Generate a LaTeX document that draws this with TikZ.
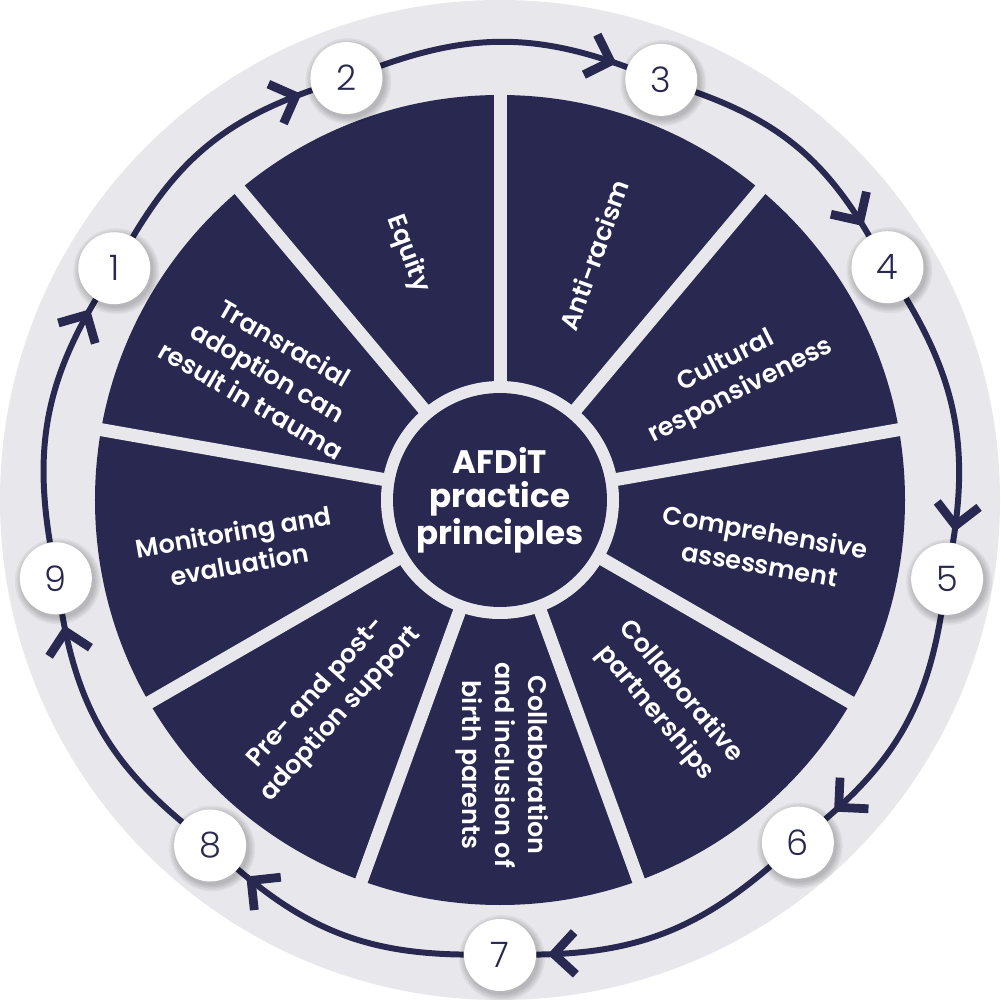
\documentclass[tikz,border=0pt]{standalone}
\usepackage{fontspec}
\setmainfont{Poppins}[BoldFont={* SemiBold}]
\newfontfamily\hubfont{Poppins}[UprightFont={* Bold}]
\newfontfamily\numfont{Poppins}[UprightFont={* Light}]
\usetikzlibrary{decorations.markings}
\definecolor{navy}{HTML}{282850}
\definecolor{ringgrey}{HTML}{E8E8EC}
\pgfdeclarelayer{back}
\pgfdeclarelayer{mid}
\pgfsetlayers{back,mid,main}
\tikzset{
  hub/.style={circle, fill=navy, minimum size=4.28cm, inner sep=0pt, text=white, align=center,
    font=\hubfont\fontsize{18.5}{19.5}\selectfont},
  seglabel/.style={text=white, align=center, inner sep=0pt,
    font=\bfseries\fontsize{14.5}{18.8}\selectfont},
  numcirc/.style={circle, fill=white, minimum size=1.44cm, inner sep=0pt, text=navy,
    font=\numfont\fontsize{20}{20}\selectfont},
  softshadow/.style={black, opacity=0.045},
  divider/.style={ringgrey, line width=7.4pt},
  flow/.style={navy, line width=3.4pt, bend left=20, postaction={decorate},
    decoration={markings, mark=at position -10pt with {
      \draw[navy, line width=5pt, line cap=butt, line join=miter] (-12pt,12pt) -- (0pt,0pt) -- (-12pt,-12pt);}}},
}
\begin{document}
\begin{tikzpicture}[x=0.02cm, y=0.02cm]
\useasboundingbox (-500,-500) rectangle (500,500);
\begin{pgfonlayer}{back}
  \fill[white] (-500,-500) rectangle (500,500);
  \fill[ringgrey] (0,0) circle (500);
  \fill[navy] (0,0) circle (405);
  \foreach \a in {10,50,...,330} \draw[divider] (\a:100) -- (\a:412);
  \fill[ringgrey] (0,0) circle (119);
\end{pgfonlayer}

\node[hub] (hub) at (0,0) {AFDiT\\practice\\principles};

\node[seglabel, rotate=-70] (equity) at (110.5:263) {Equity};
\node[seglabel, rotate=70] (antiracism) at (69:262) {Anti-racism};
\node[seglabel, rotate=27] (cultural) at (27.8:264) {Cultural\\responsiveness};
\node[seglabel, rotate=-10] (comp) at (-10.3:267) {Comprehensive\\assessment};
\node[seglabel, rotate=-50] (collabp) at (-50.3:263) {Collaborative\\partnerships};
\node[seglabel, rotate=-90] (birth) at (-89.5:265) {Collaboration\\and inclusion of\\birth parents};
\node[seglabel, rotate=48] (prepost) at (-130:266) {Pre- and post-\\adoption support};
\node[seglabel, rotate=10] (monitor) at (190.3:268) {Monitoring and\\evaluation};
\node[seglabel, rotate=-30] (trans) at (151:265) {Transracial\\adoption can\\result in trauma};

\node[numcirc] (n1) at (149:450) {1};
\node[numcirc] (n2) at (110:449) {2};
\node[numcirc] (n3) at (69:450) {3};
\node[numcirc] (n4) at (31:452) {4};
\node[numcirc] (n5) at (-10:454) {5};
\node[numcirc] (n6) at (-49:454) {6};
\node[numcirc] (n7) at (-90:455) {7};
\node[numcirc] (n8) at (-130:451) {8};
\node[numcirc] (n9) at (190:451) {9};

\begin{pgfonlayer}{mid}
  \draw[flow] (n1) to (n2);
  \draw[flow] (n2) to (n3);
  \draw[flow] (n3) to (n4);
  \draw[flow] (n4) to (n5);
  \draw[flow] (n5) to (n6);
  \draw[flow] (n6) to (n7);
  \draw[flow] (n7) to (n8);
  \draw[flow] (n8) to (n9);
  \draw[flow] (n9) to (n1);
  \foreach \n in {n1,n2,n3,n4,n5,n6,n7,n8,n9}
    \foreach \r in {37,38.5,40,41.5,43}
      \fill[softshadow] ([shift={(2,-3)}]\n.center) circle (\r);
\end{pgfonlayer}
\end{tikzpicture}
\end{document}
